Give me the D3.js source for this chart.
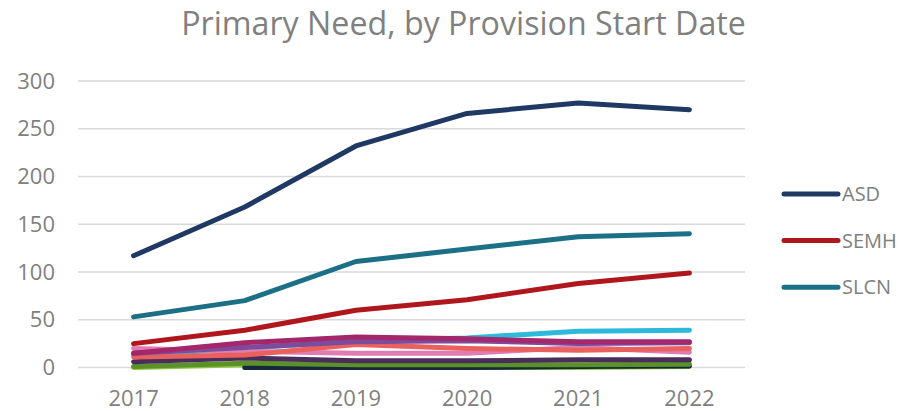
<!DOCTYPE html>
<html><head><meta charset="utf-8">
<script src="https://cdn.jsdelivr.net/npm/d3@7"></script>
<style>body{margin:0;background:#fff}svg{display:block}</style>
</head><body>
<svg id="c" width="902" height="411"></svg>
<script>
const years = ["2017","2018","2019","2020","2021","2022"];
const yTicks = [0,50,100,150,200,250,300];
const seriesNames = ["ASD","SEMH","SLCN","Cyan","Purple","Magenta","Salmon","Pink","DarkPurple","Green","Navy","LightGreen"];
const legendNames = ["ASD","SEMH","SLCN"];
const ASD = [117,168,232,266,277,270];
const SEMH = [25,39,60,71,88,99];
const SLCN = [53,70,111,124,137,140];
const Cyan = [13,20,28,31,38,39];
const Purple = [15,21,27,28,25,26];
const Magenta = [15,26,32,30,27,27];
const Salmon = [11,13,24,20,18,20];
const Pink = [20,17,15,15,21,16];
const DarkPurple = [6,10,7,7,8,8];
const Green = [1,4.5,3,3,3,3.5];
const Navy = [null,0,0,0,1,1.5];
const LightGreen = [0,3,0,0,0,1];
const colors = ["#1F3864","#B0171C","#1C7085","#2DB9DB","#7D4B9C","#A4276B","#EA605E","#E07CB1","#4A2D5B","#5B9129","#14283C","#8DC63F"];
const data = {ASD,SEMH,SLCN,Cyan,Purple,Magenta,Salmon,Pink,DarkPurple,Green,Navy,LightGreen};
const drawOrder = ["LightGreen","Navy","Green","DarkPurple","Cyan","Pink","Salmon","Purple","Magenta","SLCN","SEMH","ASD"];

const svg = d3.select("#c");
const x = d3.scaleBand().domain(years).range([78,745]);
const y = d3.scaleLinear().domain([0,300]).range([367.5,81]);
const font = "'Open Sans'";

const title = svg.append("text").attr("x",463.5).attr("y",35).attr("text-anchor","middle")
  .attr("font-family",font).attr("font-size",32).attr("fill","#808080")
  .text("Primary Need, by Provision Start Date");
const tl = title.node().getComputedTextLength();
title.attr("font-size", 32*565/tl);

svg.append("g").selectAll("line").data(yTicks).join("line")
  .attr("x1",78).attr("x2",745).attr("y1",d=>y(d)).attr("y2",d=>y(d))
  .attr("stroke","#d9d9d9").attr("stroke-width",1.3);

const ya = svg.append("g").attr("transform","translate(78,0)")
  .call(d3.axisLeft(y).tickValues(yTicks).tickSize(0).tickPadding(23));
ya.select(".domain").remove();
ya.selectAll("text").attr("font-family",font).attr("font-size",22).attr("fill","#808080");

const xa = svg.append("g").attr("transform","translate(0,406)")
  .call(d3.axisBottom(x).tickSize(0).tickPadding(0));
xa.select(".domain").remove();
xa.selectAll("text").attr("font-family",font).attr("font-size",22).attr("fill","#808080").attr("dy","0");

const line = d3.line().defined(d=>d!=null)
  .x((d,i)=>x(years[i])+x.bandwidth()/2).y(d=>y(d));

drawOrder.forEach(n=>{
  svg.append("path").datum(data[n]).attr("d", line)
    .attr("fill","none").attr("stroke",colors[seriesNames.indexOf(n)])
    .attr("stroke-width",5).attr("stroke-linecap","round").attr("stroke-linejoin","round");
});

const lg = svg.append("g");
legendNames.forEach((n,i)=>{
  const yy = 194 + i*46.6;
  lg.append("line").attr("x1",784).attr("x2",838).attr("y1",yy).attr("y2",yy)
    .attr("stroke",colors[seriesNames.indexOf(n)]).attr("stroke-width",5).attr("stroke-linecap","round");
  lg.append("text").attr("x",842).attr("y",yy).attr("dy","0.36em")
    .attr("font-family",font).attr("font-size",20).attr("fill","#808080").text(n);
});
</script>
</body></html>
